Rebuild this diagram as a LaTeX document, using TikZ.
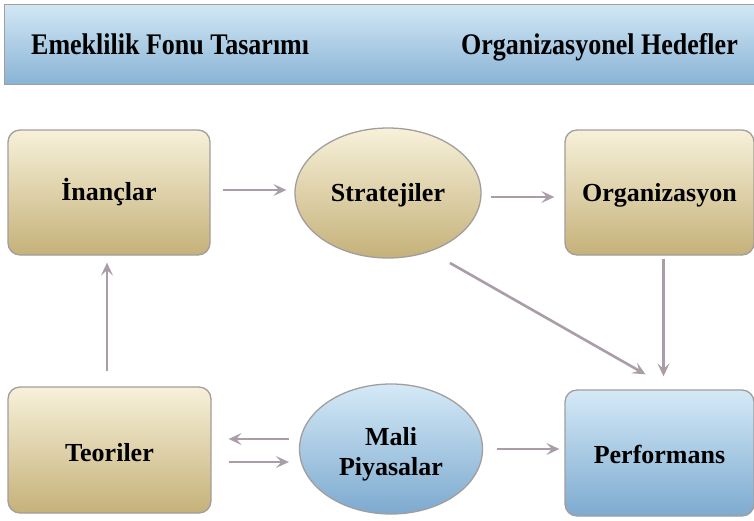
\documentclass[tikz,border=0pt]{standalone}
\usepackage{graphicx}
\usepackage{fontspec}
\setmainfont{Liberation Serif}
\usetikzlibrary{shapes.geometric,arrows.meta,calc}
\definecolor{tanTop}{HTML}{F7F1DA}
\definecolor{tanBot}{HTML}{C5B179}
\definecolor{blueTop}{HTML}{D4E9F7}
\definecolor{blueBot}{HTML}{7DAACF}
\definecolor{hdTop}{HTML}{D2E7F5}
\definecolor{hdBot}{HTML}{88B3D5}
\definecolor{edge}{HTML}{A39D9D}
\definecolor{arrc}{HTML}{A99EA8}
% place text so that its baseline lies #1 below the node centre
\newcommand{\bline}[2]{\smash{\raisebox{-#1}{#2}}}
\tikzset{
  txt/.style={font=\fontsize{26}{30}\selectfont\bfseries, align=center},
  tanbox/.style={txt, draw=edge, line width=1.3pt, rounded corners=12pt, top color=tanTop, bottom color=tanBot},
  bluebox/.style={txt, draw=edge, line width=1.3pt, rounded corners=12pt, top color=blueTop, bottom color=blueBot},
  tanell/.style={txt, ellipse, draw=edge, line width=1.3pt, top color=tanTop, bottom color=tanBot, inner sep=0pt},
  blueell/.style={txt, ellipse, draw=edge, line width=1.3pt, top color=blueTop, bottom color=blueBot, inner sep=0pt},
  arr/.style={draw=arrc, line width=2.6pt, -{Stealth[length=13pt,width=12pt,inset=5.5pt]}},
  hdtext/.style={txt, anchor=base west, inner sep=0pt}
}
\begin{document}
\begin{tikzpicture}[x=1pt,y=-1pt]
\useasboundingbox (0,0) rectangle (754,520);
\fill[white] (0,0) rectangle (754,520);
% header
\node[draw=edge, line width=1.3pt, top color=hdTop, bottom color=hdBot, minimum width=756pt, minimum height=80pt, inner sep=0pt, anchor=north west] (hdr) at (4,4) {};
\node[hdtext] (h1) at (31,54) {\scalebox{1}[1.15]{Emeklilik Fonu Tasarımı}};
\node[hdtext] (h2) at (461,54) {\scalebox{1}[1.15]{Organizasyonel Hedefler}};
% nodes
\node[tanbox, minimum width=202pt, minimum height=125pt] (inan) at (109,192.5) {\bline{8.2pt}{İnançlar}};
\node[tanell, minimum width=186pt, minimum height=130pt] (strat) at (388,193) {\bline{8.7pt}{Stratejiler}};
\node[tanbox, minimum width=189pt, minimum height=125pt] (org) at (659.5,192.5) {\bline{9.2pt}{Organizasyon}};
\node[tanbox, minimum width=203pt, minimum height=126pt] (teor) at (109.5,450) {\bline{11.7pt}{Teoriler}};
\node[blueell, minimum width=183pt, minimum height=130pt] (mali) at (391,449) {\bline{26pt}{\begin{tabular}[b]{@{}c@{}}Mali\\Piyasalar\end{tabular}}};
\node[bluebox, minimum width=189pt, minimum height=126pt] (perf) at (659.5,453) {\bline{10pt}{Performans}};
% arrows
\draw[arr, shorten <=12pt, shorten >=8pt] (inan.east |- 0,190) -- (strat.west |- 0,190);
\draw[arr, shorten <=9pt, shorten >=10pt] (strat.east |- 0,197) -- (org.west |- 0,197);
\draw[arr] ($(strat.center)+(62,70)$) -- ($(perf.north)+(-14,-15)$);
\draw[arr, shorten <=3pt, shorten >=13pt] ([xshift=4pt]org.south) -- ([xshift=4pt]perf.north);
\draw[arr, shorten <=15pt, shorten >=7pt] ([xshift=-2.5pt]teor.north) -- ([xshift=-2pt]inan.south);
\draw[arr, shorten <=10pt, shorten >=17pt] (mali.west |- 0,439) -- (teor.east |- 0,439);
\draw[arr, shorten <=17pt, shorten >=10pt] (teor.east |- 0,462) -- (mali.west |- 0,462);
\draw[arr, shorten <=14pt, shorten >=5pt] (mali.east |- 0,449) -- (perf.west |- 0,449);
\end{tikzpicture}
\end{document}
